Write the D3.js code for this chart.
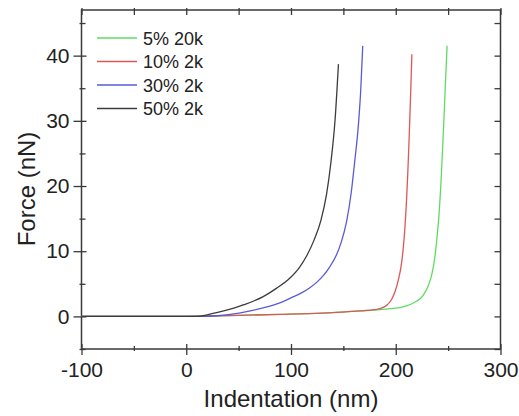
<!DOCTYPE html>
<html>
<head>
<meta charset="utf-8">
<script src="https://cdn.jsdelivr.net/npm/d3@7"></script>
<style>
  html, body { margin: 0; padding: 0; background: #fff; }
  svg { display: block; font-family: "Liberation Sans", Arial, sans-serif; }
</style>
</head>
<body>
<svg id="chart" width="519" height="416"></svg>
<script>
// ---- data ----
const seriesNames = ["5% 20k", "10% 2k", "30% 2k", "50% 2k"];
const seriesColors = ["#5fdc5f", "#dc5858", "#5a5ad8", "#3c3c3c"];

const green5x = [-100, 0, 30, 90, 130, 166, 185, 195, 205, 211, 215, 220, 226, 231, 234.5, 237.5, 239.5, 241.5, 243, 244.5, 245.8, 247.5, 249];
const green5y = [0, 0, 0.1, 0.3, 0.5, 0.85, 1.05, 1.2, 1.4, 1.65, 1.9, 2.35, 3.2, 4.7, 6.5, 9.3, 12.3, 16, 20, 25, 29.5, 36, 41.5];

const red10x = [-100, 0, 30, 90, 130, 166, 180, 187, 192, 196, 199.5, 202.5, 205, 207, 208.7, 210.2, 211.5, 212.7, 214, 215.4];
const red10y = [0, 0, 0.1, 0.3, 0.5, 0.85, 1.05, 1.3, 1.8, 2.6, 3.9, 5.6, 7.6, 10.2, 13.5, 17.5, 22, 27, 33, 40.2];

const blue30x = [-100, 0, 15, 30, 42, 60, 73.5, 90, 102, 110, 118, 125, 131, 137, 143, 148, 153, 157.5, 161, 164.4, 166.5, 168.5];
const blue30y = [0, 0, 0, 0.1, 0.3, 0.8, 1.3, 2.1, 3.0, 3.6, 4.4, 5.3, 6.3, 7.6, 9.3, 11.4, 14.5, 19, 24, 29.5, 34.5, 41.5];

const black50x = [-100, 0, 10, 20, 30, 42, 55, 65, 73, 86, 99, 108, 115, 122, 128.5, 134, 138, 142, 145.3];
const black50y = [0, 0, 0, 0.25, 0.6, 1.1, 1.8, 2.4, 3.0, 4.3, 5.9, 7.5, 9.3, 11.7, 14.7, 18.8, 23.5, 30, 38.7];

const xMajorTicks = [-100, 0, 100, 200, 300];
const xMinorTicks = [-50, 50, 150, 250];
const yMajorTicks = [0, 10, 20, 30, 40];
const yMinorTicks = [-5, 5, 15, 25, 35, 45];

const xTitle = "Indentation (nm)";
const yTitle = "Force (nN)";

// ---- layout ----
const svg = d3.select("#chart");
const L = 81.5, R = 500.5, T = 10, B = 349;
const x = d3.scaleLinear().domain([-100, 300]).range([L, R]);
const y = d3.scaleLinear().domain([-5, 47]).range([B, T]);

const axisColor = "#3a3a3a";
const textColor = "#222";

function styleAxis(g) {
  g.selectAll("path.domain").remove();
  g.selectAll(".tick line").attr("stroke", axisColor).attr("stroke-width", 1.3);
  g.selectAll(".tick text").attr("fill", textColor);
}

// bottom axis: major ticks outward with labels
svg.append("g").attr("transform", `translate(0,${B})`)
  .call(d3.axisBottom(x).tickValues(xMajorTicks).tickSize(6).tickPadding(7).tickFormat(d3.format("d")))
  .call(styleAxis)
  .call(g => g.selectAll(".tick text").attr("font-size", 21).text(d => d < 0 ? "-" + Math.abs(d) : d));
svg.append("g").attr("transform", `translate(0,${B})`)
  .call(d3.axisBottom(x).tickValues(xMajorTicks).tickSize(-5).tickFormat(""))
  .call(styleAxis);
svg.append("g").attr("transform", `translate(0,${B})`)
  .call(d3.axisBottom(x).tickValues(xMinorTicks).tickSize(-3).tickFormat(""))
  .call(styleAxis);
svg.append("g").attr("transform", `translate(0,${B})`)
  .call(d3.axisBottom(x).tickValues(xMinorTicks).tickSize(2).tickFormat(""))
  .call(styleAxis);

// left axis
svg.append("g").attr("transform", `translate(${L},0)`)
  .call(d3.axisLeft(y).tickValues(yMajorTicks).tickSize(8).tickPadding(4).tickFormat(d3.format("d")))
  .call(styleAxis)
  .call(g => g.selectAll(".tick text").attr("font-size", 21));
svg.append("g").attr("transform", `translate(${L},0)`)
  .call(d3.axisLeft(y).tickValues(yMajorTicks).tickSize(-5).tickFormat(""))
  .call(styleAxis);
svg.append("g").attr("transform", `translate(${L},0)`)
  .call(d3.axisLeft(y).tickValues(yMinorTicks).tickSize(-4).tickFormat(""))
  .call(styleAxis);
svg.append("g").attr("transform", `translate(${L},0)`)
  .call(d3.axisLeft(y).tickValues(yMinorTicks).tickSize(2).tickFormat(""))
  .call(styleAxis);

// top axis (inward ticks, no labels)
svg.append("g").attr("transform", `translate(0,${T})`)
  .call(d3.axisTop(x).tickValues(xMajorTicks.concat(xMinorTicks)).tickSize(-5).tickFormat(""))
  .call(styleAxis);
svg.append("g").attr("transform", `translate(0,${T})`)
  .call(d3.axisTop(x).tickValues(xMajorTicks.concat(xMinorTicks)).tickSize(2).tickFormat(""))
  .call(styleAxis);
// right axis (inward ticks, no labels)
svg.append("g").attr("transform", `translate(${R},0)`)
  .call(d3.axisRight(y).tickValues(yMajorTicks.concat(yMinorTicks)).tickSize(-6).tickFormat(""))
  .call(styleAxis);

// frame
svg.append("rect")
  .attr("x", L).attr("y", T).attr("width", R - L).attr("height", B - T)
  .attr("fill", "none").attr("stroke", axisColor).attr("stroke-width", 1.5);

// curves
const allSeries = [
  { xs: green5x, ys: green5y },
  { xs: red10x, ys: red10y },
  { xs: blue30x, ys: blue30y },
  { xs: black50x, ys: black50y }
];
const line = d3.line().x(d => x(d[0])).y(d => y(d[1])).curve(d3.curveMonotoneX);
allSeries.forEach((s, i) => {
  const pts = s.xs.map((v, k) => [v, s.ys[k]]);
  svg.append("path")
    .datum(pts)
    .attr("d", line)
    .attr("fill", "none")
    .attr("stroke", seriesColors[i])
    .attr("stroke-width", 1.3);
});

// legend
const leg = svg.append("g");
seriesNames.forEach((name, i) => {
  const yy = 38 + i * 23.5;
  leg.append("line")
    .attr("x1", 97).attr("x2", 137).attr("y1", yy).attr("y2", yy)
    .attr("stroke", seriesColors[i]).attr("stroke-width", 1.3);
  leg.append("text")
    .attr("x", 143).attr("y", yy + 6.5)
    .attr("font-size", 18).attr("fill", textColor)
    .text(name);
});

// axis titles
svg.append("text")
  .attr("x", (L + R) / 2).attr("y", 407)
  .attr("text-anchor", "middle").attr("font-size", 24).attr("fill", textColor)
  .text(xTitle);
svg.append("text")
  .attr("transform", "translate(35,189) rotate(-90)")
  .attr("text-anchor", "middle").attr("font-size", 24).attr("fill", textColor)
  .text(yTitle);
</script>
</body>
</html>
